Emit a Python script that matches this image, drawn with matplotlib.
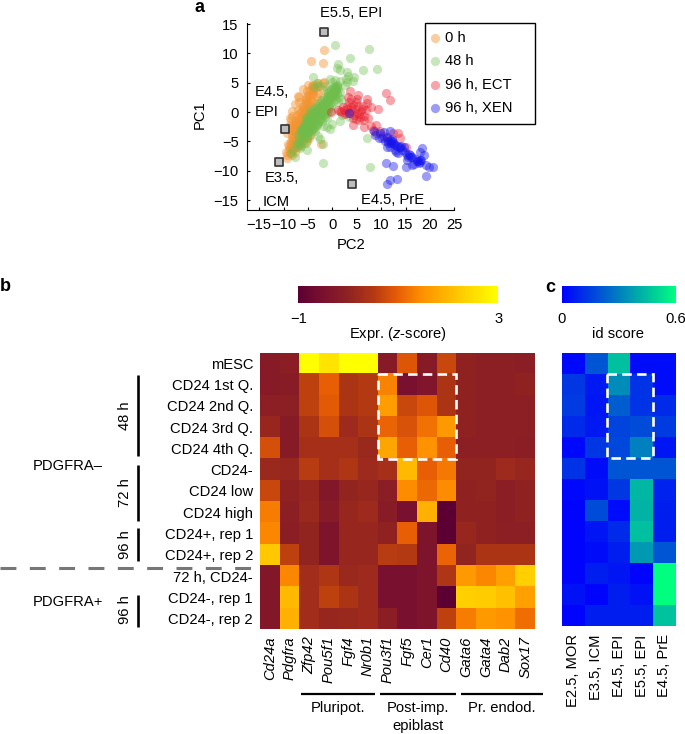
#!/usr/bin/env python3

import matplotlib as mpl
mpl.use('Agg')
import matplotlib.pyplot as plt
from matplotlib.colors import LinearSegmentedColormap
from matplotlib.lines import Line2D
from matplotlib.patches import Rectangle
import numpy as np

plt.rcParams['font.family'] = ['Liberation Sans', 'DejaVu Sans']
plt.rcParams['font.size'] = 10.6
plt.rcParams['mathtext.fontset'] = 'custom'
plt.rcParams['mathtext.it'] = 'Liberation Sans:italic'
plt.rcParams['mathtext.rm'] = 'Liberation Sans'

#======================================================================

W, H = 685, 734

# PC2 / PC1 of the single cells
pc2_0h = [-1.8, -4.3, -1.9, -3.0, -2.0, -1.7, -4.0, -3.2, -5.2, -3.9, -2.9, -1.9, -6.8, -5.4, -4.2, -3.2,
          -6.9, -5.4, -4.3, -3.5, -2.5, -6.0, -5.0, -4.2, -3.2, -7.1, -6.4, -5.4, -4.4, -3.7, -8.2, -7.2,
          -6.4, -5.6, -4.6, -8.4, -7.6, -6.8, -6.0, -5.1, -8.6, -7.9, -7.2, -6.4, -5.6, -8.5, -7.6, -6.9,
          -6.0, -5.2, -8.2, -7.3, -6.6, -5.6, -4.6, -8.0, -7.1, -6.2, -5.3, -8.4, -7.6, -6.8, -8.7, -7.8,
          -7.0, -9.3, -8.6, -7.6, -9.3, -2.4, -8.3, -7.9, -7.4, -7.7, -6.7, -6.1, -5.8, -5.0, -4.8, -4.0,
          -3.4, -6.5, -7.0, -7.4, -8.0, -8.1, -7.5, -6.9, -6.3, -5.7, -5.5, -5.0, -4.4, -4.8, -6.2, -5.9,
          -4.7, -4.1, -3.8, -2.9, -6.6, -7.2, -5.2, -7.8, -8.2, -8.9, -6.1, -6.9, -5.3, -4.9,
          -8.8, -8.2, -7.7, -8.4, -8.1, -7.4, -8.3, -7.6, -7.1, -7.8, -7.5, -6.8, -7.6, -7.0, -6.7, -7.2,
          -6.9, -6.2, -6.8, -6.5, -5.8, -6.6, -6.0, -5.6, -6.1, -5.8, -5.1, -5.9, -5.2, -4.8, -5.4, -5.1,
          -4.4, -5.0, -4.7, -4.0, -4.6, -4.1, -3.7, -4.2, -3.9, -3.2, -7.1, -6.4, -6.0, -5.4, -5.1, -4.5,
          -4.1, -3.4, -9.2, -9.0, -8.7, -8.2, -7.6, -7.0, -6.0, -5.0, -9.5, -9.1]
pc1_0h = [10.6, 8.8, 8.3, 5.0, 5.0, 5.2, 4.7, 4.2, 3.6, 3.6, 3.3, 3.8, 2.6, 2.6, 2.9, 2.5,
          1.7, 1.7, 1.9, 1.5, 2.0, 1.0, 0.8, 0.9, 0.7, 0.4, 0.2, 0.0, -0.1, 0.0, -0.6, -0.5,
          -0.8, -0.9, -1.0, -1.4, -1.3, -1.6, -1.8, -1.9, -2.2, -2.2, -2.4, -2.5, -2.8, -3.0, -3.0, -3.2,
          -3.5, -3.6, -3.8, -3.9, -4.0, -4.2, -3.9, -4.6, -4.6, -4.6, -4.5, -5.4, -5.4, -5.2, -6.1, -6.1,
          -6.0, -7.3, -6.9, -6.8, -7.9, -5.5, -7.4, -3.4, -3.5, -1.8, -2.0, -2.3, -1.2, -1.4, -2.4, -2.0,
          -0.9, -3.6, -4.1, -5.0, -5.0, -2.7, -2.7, -2.8, -3.0, -3.3, -0.3, -0.4, -0.6, -3.0, -4.9, -5.2,
          -4.4, -2.9, -1.6, 0.2, -5.6, -5.8, -4.9, -5.8, -6.4, -6.5, -3.9, -3.5, -2.1, -3.3,
          -5.8, -5.9, -5.7, -5.0, -5.1, -4.9, -4.2, -4.3, -4.1, -3.4, -3.5, -3.3, -2.6, -2.7, -2.5, -1.8,
          -1.9, -1.7, -1.0, -1.1, -0.9, -0.2, -0.3, -0.1, 0.6, 0.5, 0.7, 1.4, 1.3, 1.5, 2.2, 2.1,
          2.3, 3.0, 2.9, 3.1, 3.8, 3.7, 3.9, 4.5, 4.4, 4.6, -4.8, -4.0, -3.2, -2.5, -1.8, -1.2,
          -0.5, 0.3, -3.6, -2.6, -1.0, 0.2, 1.4, 2.8, 3.9, 4.6, -6.8, -5.4]

pc2_48h = [0.5, 7.5, 1.2, 1.0, 3.7, 1.5, 3.0, 3.2, 6.2, 9.2, -4.0, 2.8, 4.5, 4.2, -3.2, -2.7,
           -1.6, -1.0, -3.7, -0.5, -0.1, 0.6, 1.5, 3.0, 2.5, 1.0, -7.7, -8.0, -8.5, -5.4, -5.2, -2.0,
           -1.9, 7.8, 7.0, 1.5, 0.0, -1.0, -2.0, -1.0, 2.0, 3.4, -0.4, -2.6, -3.0,
           1.0, 0.6, 0.3, 0.9, 0.1, -0.3, 0.5, -0.6, -0.1, 1.3, 1.8, -1.0, -0.6, 0.1, -1.3, -1.6, -0.9,
           -0.2, 1.1, -1.8, -2.1, -1.4, -0.8, -2.4, -2.7, -2.0, -1.2, -0.3, -3.0, -3.3, -2.5, -1.7, -3.6,
           -3.9, -3.2, -2.3, -1.5, -4.2, -4.5, -3.6, -2.7, -4.8, -5.0, -4.2, -3.2, -5.3, -5.6, -4.8, -3.9,
           -2.9, -5.8, -6.1, -5.3, -4.4, -6.4, -5.8, -4.8, -3.6, -6.8, -6.2, -5.1, -7.1, -6.4, -7.5, -6.7,
           -4.0, -2.2, -1.0, 0.2, -3.4, -4.6, -5.5, -2.9, -1.9, -0.7, 0.7, -3.1, -4.1, -5.0, -6.0, -5.7,
           -4.9, -3.8, -2.6, -1.6, -0.5, 0.4, 1.5, -2.1, -3.5, -4.4, -5.2, -6.6,
           -7.0, -6.7, -6.3, -6.5, -6.0, -5.7, -5.9, -5.4, -5.1, -5.5, -4.9, -4.6, -5.0, -4.3, -4.0, -4.6,
           -3.8, -3.5, -4.1, -3.3, -3.0, -3.7, -2.8, -2.5, -3.2, -2.4, -2.1, -2.8, -1.9, -1.6, -2.2, -1.4,
           -1.1, -1.8, -0.9, -0.6, -1.2, -0.5, -0.2, -0.9, 0.0, 0.3, -0.4, 0.4, 0.7, 0.1, 0.8, 1.0,
           0.5, 1.2, -5.2, -4.4, -3.6, -2.6, -1.7, -0.7, 0.2, -4.8, -3.9, -3.1, -2.3, -1.3, -0.3, 0.6]
pc1_48h = [11.5, 10.8, 8.2, 7.6, 9.2, 7.2, 6.8, 6.2, 7.1, 7.4, 6.0, 5.6, 6.0, 5.3, 5.0, 4.5,
           4.4, 3.8, 4.2, 5.6, 5.2, 5.5, 5.3, 5.1, 4.6, 4.6, -7.6, -6.5, -7.0, -5.2, -6.4, -5.4,
           -8.6, -9.3, -4.5, -1.5, -2.0, -2.6, -2.3, -1.0, -0.5, -0.9, -2.9, -4.6, -4.0,
           4.4, 3.9, 4.3, 3.3, 3.4, 3.9, 2.8, 3.0, 2.4, 2.6, 2.2, 2.3, 1.9, 1.7, 1.7, 1.2, 1.2,
           1.1, 1.7, 0.6, 0.2, 0.5, 0.4, -0.4, 0.3, 0.0, -0.1, 0.2, -0.7, -0.1, -0.5, -0.5, -1.1,
           -0.6, -1.2, -1.1, -0.8, -1.7, -1.2, -1.8, -1.6, -1.9, -2.4, -2.4, -2.2, -2.4, -3.0, -3.0, -2.8,
           -1.8, -3.0, -3.7, -3.6, -3.3, -4.0, -4.3, -3.9, -3.2, -4.6, -5.0, -4.4, -5.2, -5.8, -5.4, -6.2,
           -0.1, 1.0, 2.4, 2.9, 0.9, 0.3, -0.8, -0.9, -0.2, 0.8, 2.2, -2.1, -1.4, -1.7, -2.7, -3.6,
           -3.4, -2.7, -1.2, -0.2, 1.4, 3.1, 3.4, -1.6, -2.6, -3.1, -4.0, -5.4,
           -3.9, -3.2, -3.3, -2.9, -2.9, -2.4, -2.1, -2.2, -1.9, -1.4, -1.6, -1.3, -0.9, -1.1, -0.7, -0.3,
           -0.6, -0.2, 0.1, -0.1, 0.2, 0.6, 0.3, 0.8, 1.0, 0.9, 1.2, 1.5, 1.3, 1.7, 2.0, 1.8,
           2.1, 2.4, 2.2, 2.6, 2.8, 2.7, 3.1, 3.3, 3.0, 3.5, 3.6, 3.4, 3.9, 4.1, 3.8, 4.2,
           4.4, 4.0, -2.2, -1.4, -0.4, 0.5, 1.4, 2.3, 3.2, -2.0, -1.0, 0.0, 0.9, 1.8, 2.7, 3.7]

pc2_96e = [10.9, 11.8, 3.6, 5.0, 7.0, 7.0, 8.0, 9.4, 1.2, 2.3, 2.9, 4.3, 5.3, 3.6, 5.0, 6.4,
           5.7, 4.3, 6.4, 8.0, 8.9, 9.8, 8.4, 12.5, 13.5, 13.9, 15.2, 9.0, -0.3, 3.4, 1.8, 2.6,
           4.0, 4.7, 5.9, 2.1, 3.0, 4.4, 5.4, 6.0, 6.8, 3.2, 3.9, 2.7, 1.5, 4.9, 5.5, 4.2,
           6.5, 7.4, 4.8, 3.8, 5.2, 6.2, 10.4, 11.3, 12.0]
pc1_96e = [3.3, 2.0, 3.6, 2.3, 2.3, 1.5, 0.9, 0.5, 0.4, 0.4, 1.0, 1.2, 1.0, -0.2, -0.2, -0.6,
           -0.8, -2.2, -2.5, -2.3, -2.2, -3.3, -3.0, -3.6, -3.6, -4.5, -5.9, -3.6, 0.0, 1.8, 0.0, -0.3,
           0.3, 0.5, 0.2, 0.8, 0.6, -0.5, -0.3, 0.5, 0.3, 2.6, 2.3, -0.1, 0.2, -1.1, -1.3, -1.0,
           -1.4, -1.0, 1.8, 0.9, 3.0, 1.0, -4.0, -4.5, -5.2]

pc2_96x = [3.4, 8.6, 8.8, 9.7, 9.5, 10.5, 11.8, 11.2, 11.8, 11.5, 12.2, 12.9, 11.2, 12.9, 11.8, 13.9,
           14.6, 14.9, 15.9, 15.6, 16.3, 15.3, 15.0, 16.3, 17.3, 18.0, 17.7, 18.0, 18.3, 18.7, 19.2, 19.9,
           20.6, 19.2, 11.0, 12.5, 11.8, 13.3, 11.2, 11.4, 12.0, 12.4, 12.7, 13.2, 13.6, 14.1, 15.4, 15.7,
           16.1, 17.5, 17.9, 18.2, 17.2, 12.2, 13.0, 14.3, 10.8, 10.2, 13.5, 16.8]
pc1_96x = [-0.2, -3.2, -3.9, -3.5, -4.5, -3.4, -3.2, -4.2, -4.8, -5.2, -5.0, -5.6, -6.0, -6.4, -5.9, -5.9,
           -6.0, -6.8, -7.3, -7.6, -7.7, -8.2, -9.3, -9.0, -8.3, -8.2, -8.7, -6.8, -6.1, -7.3, -9.0, -9.3,
           -9.3, -10.9, -8.6, -9.2, -11.5, -11.4, -12.3, -5.0, -5.3, -5.1, -5.4, -5.7, -5.9, -5.8, -7.4, -7.2,
           -7.6, -8.4, -8.5, -8.2, -8.0, -4.6, -6.8, -6.5, -5.0, -4.4, -7.0, -8.8]

ref_pc2 = [-1.7, -9.7, -10.9, 4.1]
ref_pc1 = [13.6, -2.8, -8.5, -12.3]

#----------------------------------------------------------------------

rows = ['mESC', 'CD24 1st Q.', 'CD24 2nd Q.', 'CD24 3rd Q.', 'CD24 4th Q.',
        'CD24-', 'CD24 low', 'CD24 high', 'CD24+, rep 1', 'CD24+, rep 2',
        '72 h, CD24-', 'CD24-, rep 1', 'CD24-, rep 2']
genes = ['Cd24a', 'Pdgfra', 'Zfp42', 'Pou5f1', 'Fgf4', 'Nr0b1', 'Pou3f1',
         'Fgf5', 'Cer1', 'Cd40', 'Gata6', 'Gata4', 'Dab2', 'Sox17']
stages = ['E2.5, MOR', 'E3.5, ICM', 'E4.5, EPI', 'E5.5, EPI', 'E4.5, PrE']

expr = [
    [-0.2, -0.1, 3.0, 2.6, 3.0, 3.0, -0.2, 0.9, -0.2, 0.7, 0.0, -0.05, -0.05, -0.1],
    [-0.2, -0.15, 0.6, 1.0, 0.4, 0.5, 1.35, -0.5, -0.35, 0.4, 0.0, -0.05, -0.05, 0.0],
    [-0.05, -0.05, 0.6, 0.95, 0.4, 0.5, 1.65, 0.7, 0.9, 0.4, 0.0, -0.05, -0.05, -0.05],
    [0.1, -0.2, 0.4, 0.8, 0.2, 0.4, 1.05, 0.85, 1.2, 1.6, 0.0, -0.05, -0.05, -0.05],
    [0.8, -0.2, 0.3, 0.3, 0.3, 0.15, 1.75, 1.0, 1.5, 1.0, -0.05, -0.05, -0.05, -0.1],
    [0.15, 0.1, 0.55, 0.3, 0.45, 0.2, 0.3, 2.0, 1.0, 1.25, 0.05, 0.05, 0.2, 0.1],
    [0.7, 0.0, 0.1, -0.3, 0.05, 0.1, -0.1, 1.45, 1.1, 1.45, 0.0, 0.05, -0.1, 0.0],
    [1.3, -0.05, 0.15, -0.2, 0.1, 0.2, -0.15, -0.5, 1.9, -1.0, 0.0, 0.0, -0.1, 0.0],
    [1.4, -0.1, 0.05, -0.4, 0.1, 0.1, 0.0, 1.0, -0.4, -1.0, 0.1, 0.0, -0.05, -0.05],
    [2.2, 0.6, 0.05, -0.4, 0.1, 0.1, 0.55, 0.5, -0.4, 1.05, 0.05, 0.4, 0.4, 0.4],
    [-0.3, 1.4, 0.25, 0.45, 0.15, 0.2, -0.5, -0.5, -0.4, 0.45, 1.6, 1.4, 1.7, 2.3],
    [-0.3, 2.0, 0.25, 0.6, 0.4, 0.2, -0.5, -0.5, -0.4, -1.0, 2.3, 2.25, 2.1, 1.7],
    [-0.3, 1.9, 0.25, 0.1, 0.15, 0.2, -0.1, -0.5, -0.4, 0.6, 1.3, 1.6, 1.5, 1.15],
]

id_score = [
    [0.02, 0.20, 0.45, 0.03, 0.03],
    [0.13, 0.06, 0.33, 0.12, 0.03],
    [0.14, 0.05, 0.22, 0.12, 0.10],
    [0.10, 0.06, 0.16, 0.18, 0.14],
    [0.02, 0.13, 0.17, 0.30, 0.05],
    [0.12, 0.03, 0.20, 0.20, 0.20],
    [0.02, 0.04, 0.13, 0.43, 0.08],
    [0.01, 0.18, 0.03, 0.42, 0.07],
    [0.01, 0.05, 0.10, 0.45, 0.07],
    [0.01, 0.03, 0.07, 0.36, 0.20],
    [0.01, 0.07, 0.05, 0.01, 0.60],
    [0.04, 0.01, 0.07, 0.04, 0.60],
    [0.01, 0.07, 0.07, 0.07, 0.46],
]

#======================================================================

def axes_px(fig, left, top, right, bottom):
    return fig.add_axes([left/W, 1 - bottom/H, (right - left)/W, (bottom - top)/H])

def text_px(fig, x, y, s, **kwargs):
    kwargs.setdefault('ha', 'center')
    kwargs.setdefault('va', 'center')
    return fig.text(x/W, 1 - y/H, s, **kwargs)

def line_px(fig, xs, ys, **kwargs):
    fig.add_artist(Line2D([x/W for x in xs], [1 - y/H for y in ys], **kwargs))

def heatmap(ax, vals, cmap, vmin, vmax):
    im = ax.imshow(np.array(vals), cmap=cmap, vmin=vmin, vmax=vmax,
                   aspect='auto', interpolation='nearest')
    for spine in ax.spines.values():
        spine.set_visible(False)
    ax.tick_params(length=0)
    return im

def colorbar(fig, im, left, right, ticks, labels):
    cax = axes_px(fig, left, 285.7, right, 303.3)
    cb = fig.colorbar(im, cax=cax, orientation='horizontal')
    cb.outline.set_visible(False)
    cb.set_ticks(ticks, labels=labels)
    cax.tick_params(length=0, pad=6)
    return cb

#======================================================================

def plot_pca(fig):
    ax = axes_px(fig, 247, 23, 454.3, 210)
    ax.scatter(pc2_0h, pc1_0h, s=44, c='#f39431', alpha=0.45, lw=0, label='0 h')
    ax.scatter(pc2_48h, pc1_48h, s=44, c='#6fbe4c', alpha=0.38, lw=0, label='48 h')
    ax.scatter(pc2_96e, pc1_96e, s=44, c='#e8202e', alpha=0.40, lw=0, label='96 h, ECT')
    ax.scatter(pc2_96x, pc1_96x, s=44, c='#1414ee', alpha=0.42, lw=0, label='96 h, XEN')
    ax.scatter(ref_pc2, ref_pc1, s=40, marker='s', c='#bdbdbd', edgecolors='#333333',
               linewidths=1.2, zorder=5, clip_on=False)

    ax.set_xlim(-17.5, 25)
    ax.set_ylim(-16.7, 15.2)
    ax.set_xticks(np.arange(-15, 30, 5))
    ax.set_yticks(np.arange(-15, 20, 5))
    ax.tick_params(direction='in', length=2.5, width=0.8, pad=6)
    ax.spines['top'].set_visible(False)
    ax.spines['right'].set_visible(False)
    ax.patch.set_alpha(0)

    # legend box is wider than its entries
    fig.add_artist(Rectangle((425/W, 1 - 124/H), 110/W, 100.7/H, fill=False, ec='k', lw=1.0,
                             transform=fig.transFigure))
    ax.legend(loc='upper left', bbox_to_anchor=(433/W, 1 - 31/H),
              bbox_transform=fig.transFigure, frameon=False, borderaxespad=0, borderpad=0,
              handletextpad=0.5, labelspacing=0.63, handlelength=0.3, fontsize=10.6)

    text_px(fig, 200, 115, 'PC1', rotation=90)
    text_px(fig, 351, 245, 'PC2')
    text_px(fig, 351, 13, 'E5.5, EPI')
    text_px(fig, 255, 92, 'E4.5,', ha='left')
    text_px(fig, 255, 112, 'EPI', ha='left')
    text_px(fig, 265, 178, 'E3.5,', ha='left')
    text_px(fig, 263, 202, 'ICM', ha='left')
    text_px(fig, 393, 200, 'E4.5, PrE')

def plot_expr(fig):
    cmap = LinearSegmentedColormap.from_list('expr', [
        (0.00, '#5c0033'), (0.12, '#7a1030'), (0.25, '#8f2222'), (0.38, '#b53a12'),
        (0.50, '#e85e05'), (0.62, '#ff9000'), (0.80, '#ffc800'), (1.00, '#ffff00')])
    ax = axes_px(fig, 260, 352.7, 535, 629.3)
    im = heatmap(ax, expr, cmap, -1, 3)
    ax.set_yticks(range(len(rows)), rows)
    ax.tick_params(axis='y', pad=5)
    ax.set_xticks(range(len(genes)), genes, rotation=90, style='italic')
    ax.tick_params(axis='x', pad=5)
    ax.add_patch(Rectangle((5.5, 0.5), 4, 4, fill=False, ec='w', lw=1.9,
                           ls=(0, (3.6, 2.0)), zorder=5))
    colorbar(fig, im, 298.3, 498.3, [-1, 3], ['\u22121', '3'])
    text_px(fig, 398, 334, 'Expr. ($z$-score)')

def plot_id(fig):
    ax = axes_px(fig, 562, 353.3, 675.7, 626)
    im = heatmap(ax, id_score, 'winter', 0, 0.6)
    ax.set_yticks([])
    ax.set_xticks(range(len(stages)), stages, rotation=90)
    ax.tick_params(axis='x', pad=6)
    ax.add_patch(Rectangle((1.5, 0.5), 2, 4, fill=False, ec='w', lw=1.9,
                           ls=(0, (3.6, 2.0)), zorder=5))
    colorbar(fig, im, 562, 676, [0, 0.6], ['0', '0.6'])
    text_px(fig, 618, 334, 'id score')

def plot_annotations(fig):
    # brackets left of heatmap b
    for top, bottom, ymid, name in [(375, 456, 416, '48 h'), (465, 520.7, 493, '72 h'),
                                    (528, 561, 545, '96 h'), (595, 627, 610, '96 h')]:
        line_px(fig, [138, 138], [top, bottom], color='k', lw=1.9, solid_capstyle='butt')
        text_px(fig, 125, ymid, name, rotation=90)
    text_px(fig, 68, 466, 'PDGFRA\u2013')
    text_px(fig, 68, 602, 'PDGFRA+')
    line_px(fig, [0, 255], [568, 568], color='#777777', lw=2.2, ls=(0, (5.2, 4.4)))

    # gene groups below heatmap b
    for left, right in [(301, 375), (380, 456), (461, 543)]:
        line_px(fig, [left, right], [694.3, 694.3], color='k', lw=1.6, solid_capstyle='butt')
    text_px(fig, 338, 708, 'Pluripot.')
    text_px(fig, 418, 708, 'Post-imp.')
    text_px(fig, 418, 726, 'epiblast')
    text_px(fig, 502, 708, 'Pr. endod.')

    text_px(fig, 200, 7, 'a', fontweight='bold', fontsize=13)
    text_px(fig, 5, 287, 'b', fontweight='bold', fontsize=13)
    text_px(fig, 550, 288, 'c', fontweight='bold', fontsize=13)

#======================================================================

def main():
    fig = plt.figure(figsize=(W/100, H/100), dpi=100)
    plot_pca(fig)
    plot_expr(fig)
    plot_id(fig)
    plot_annotations(fig)
    fig.savefig('out.png', dpi=100)
    plt.close()

if __name__ == '__main__':
    main()
